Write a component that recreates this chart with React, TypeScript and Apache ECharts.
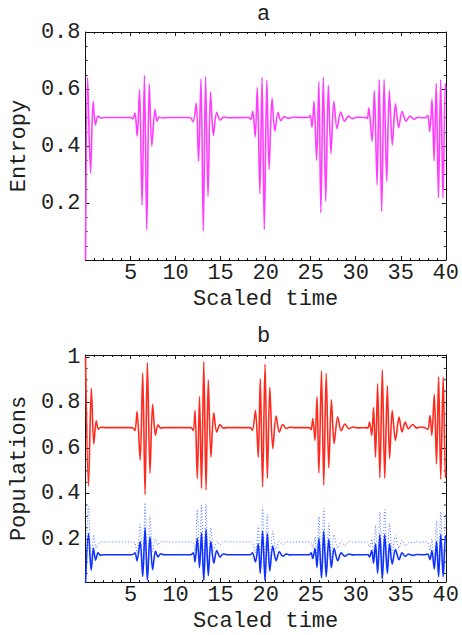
import React, { useEffect, useRef } from "react";
import * as echarts from "echarts";

// ---------- texts ----------
const PANEL_TITLES = ["a", "b"];
const X_NAME = "Scaled time";
const Y_NAMES = ["Entropy", "Populations"];

// ---------- axes ----------
const X_MIN = 0;
const X_MAX = 40;
const X_STEP = 5;
const ENTROPY_MIN = 0;
const ENTROPY_MAX = 0.8;
const ENTROPY_STEP = 0.2;
const POP_MIN = 0.012;
const POP_MAX = 1.009;
const POP_LABELS = [0.2, 0.4, 0.6, 0.8, 1];
const POP_MINOR = [0.05, 0.1, 0.15, 0.25, 0.3, 0.35, 0.45, 0.5, 0.55, 0.65, 0.7, 0.75, 0.85, 0.9, 0.95];

// ---------- data: [scaled time, value] ----------
const entropy: number[][] = [
  [0, 0.0], [0.23, 0.641], [0.56, 0.304], [0.85, 0.557], [1.1, 0.475], [1.39, 0.505], [1.7, 0.498], [2.2, 0.5],
  [5.05, 0.5], [5.25, 0.495], [5.49, 0.516], [5.74, 0.434], [6.0, 0.598], [6.28, 0.192], [6.54, 0.648], [6.8, 0.106],
  [7.08, 0.618], [7.36, 0.4], [7.72, 0.528], [7.94, 0.487], [8.16, 0.502], [8.5, 0.498], [9.0, 0.5],
  [11.6, 0.5], [11.95, 0.485], [12.3, 0.55], [12.55, 0.346], [12.82, 0.635], [13.08, 0.102], [13.33, 0.644],
  [13.6, 0.223], [13.88, 0.59], [14.2, 0.437], [14.56, 0.518], [14.95, 0.491], [15.35, 0.502], [15.8, 0.499],
  [18.1, 0.5], [18.35, 0.493], [18.57, 0.522], [18.84, 0.432], [19.07, 0.605], [19.36, 0.233], [19.6, 0.641],
  [19.85, 0.107], [20.13, 0.631], [20.38, 0.317], [20.71, 0.568], [21.02, 0.452], [21.37, 0.518], [21.7, 0.489],
  [22.05, 0.503], [22.5, 0.497], [23.0, 0.501],
  [24.75, 0.5], [24.94, 0.508], [25.15, 0.466], [25.37, 0.557], [25.66, 0.349], [25.91, 0.625], [26.13, 0.166],
  [26.4, 0.641], [26.67, 0.207], [26.96, 0.613], [27.25, 0.373], [27.57, 0.557], [27.93, 0.461], [28.33, 0.519],
  [28.76, 0.487], [29.2, 0.505], [29.63, 0.496], [30.1, 0.501],
  [31.15, 0.5], [31.3, 0.497], [31.45, 0.533], [31.82, 0.416], [32.07, 0.595], [32.37, 0.264], [32.61, 0.633],
  [32.88, 0.17], [33.15, 0.633], [33.44, 0.276], [33.73, 0.595], [34.06, 0.403], [34.41, 0.548], [34.77, 0.464],
  [35.14, 0.522], [35.57, 0.487], [36.03, 0.505], [36.47, 0.494], [36.93, 0.501], [37.4, 0.499],
  [37.8, 0.5], [38.01, 0.508], [38.22, 0.451], [38.47, 0.565], [38.7, 0.347], [38.94, 0.619], [39.18, 0.217],
  [39.43, 0.633], [39.69, 0.217], [39.94, 0.619], [40, 0.6],
];

const popRed: number[][] = [
  [0, 1.0], [0.33, 0.432], [0.65, 0.863], [0.92, 0.618], [1.19, 0.72], [1.42, 0.683], [1.7, 0.692], [2.2, 0.69],
  [5.2, 0.69], [5.49, 0.677], [5.72, 0.761], [6.07, 0.547], [6.35, 0.93], [6.61, 0.396], [6.87, 0.975],
  [7.16, 0.49], [7.45, 0.792], [7.77, 0.657], [8.05, 0.702], [8.35, 0.688], [8.7, 0.69],
  [11.7, 0.69], [11.97, 0.678], [12.16, 0.765], [12.41, 0.467], [12.66, 0.827], [12.88, 0.423], [13.13, 0.979],
  [13.38, 0.416], [13.63, 0.899], [13.92, 0.561], [14.24, 0.755], [14.57, 0.67], [14.93, 0.703], [15.3, 0.688],
  [15.7, 0.69],
  [18.3, 0.69], [18.53, 0.678], [18.87, 0.765], [19.18, 0.56], [19.4, 0.905], [19.66, 0.43], [19.93, 0.968],
  [20.19, 0.467], [20.46, 0.867], [20.79, 0.598], [21.16, 0.741], [21.52, 0.67], [21.9, 0.704], [22.3, 0.686],
  [22.7, 0.692], [23.2, 0.69],
  [24.85, 0.69], [25.05, 0.681], [25.23, 0.729], [25.48, 0.634], [25.7, 0.826], [25.91, 0.491], [26.2, 0.94],
  [26.45, 0.438], [26.72, 0.928], [27.01, 0.514], [27.3, 0.812], [27.6, 0.62], [28.0, 0.738], [28.38, 0.676],
  [28.8, 0.706], [29.25, 0.685], [29.7, 0.693], [30.2, 0.689],
  [31.2, 0.69], [31.35, 0.688], [31.53, 0.714], [31.78, 0.656], [31.98, 0.778], [32.2, 0.56], [32.43, 0.883],
  [32.68, 0.47], [32.95, 0.943], [33.22, 0.467], [33.51, 0.874], [33.76, 0.554], [34.05, 0.765], [34.41, 0.634],
  [34.81, 0.736], [35.14, 0.671], [35.5, 0.714], [35.85, 0.685], [36.33, 0.704], [36.77, 0.688], [37.2, 0.693],
  [37.7, 0.69], [38.0, 0.682], [38.25, 0.743], [38.45, 0.656], [38.72, 0.836], [38.97, 0.53], [39.2, 0.913],
  [39.44, 0.463], [39.71, 0.912], [39.96, 0.47], [40, 0.5],
];

const popBlue: number[][] = [
  [0, 0.0], [0.33, 0.225], [0.63, 0.064], [0.88, 0.16], [1.12, 0.108], [1.39, 0.14], [1.65, 0.13], [2.0, 0.132],
  [5.2, 0.132], [5.49, 0.14], [5.72, 0.105], [6.07, 0.19], [6.35, 0.036], [6.61, 0.25], [6.87, 0.022],
  [7.16, 0.21], [7.45, 0.066], [7.77, 0.148], [8.05, 0.122], [8.35, 0.136], [8.7, 0.132],
  [11.7, 0.132], [11.97, 0.14], [12.16, 0.1], [12.41, 0.205], [12.66, 0.075], [12.88, 0.227], [13.13, 0.02],
  [13.38, 0.244], [13.63, 0.04], [13.92, 0.19], [14.24, 0.095], [14.57, 0.15], [14.93, 0.122], [15.3, 0.135],
  [15.7, 0.132],
  [18.3, 0.132], [18.53, 0.14], [18.87, 0.1], [19.18, 0.18], [19.4, 0.05], [19.66, 0.235], [19.93, 0.02],
  [20.19, 0.225], [20.46, 0.06], [20.79, 0.17], [21.16, 0.105], [21.52, 0.145], [21.9, 0.125], [22.3, 0.135],
  [22.7, 0.131], [23.2, 0.132],
  [24.85, 0.132], [25.05, 0.14], [25.23, 0.115], [25.48, 0.16], [25.7, 0.075], [25.91, 0.205], [26.2, 0.03],
  [26.45, 0.235], [26.72, 0.035], [27.01, 0.2], [27.3, 0.075], [27.6, 0.16], [28.0, 0.105], [28.38, 0.14],
  [28.8, 0.125], [29.25, 0.135], [29.7, 0.131], [30.2, 0.132],
  [31.2, 0.132], [31.35, 0.133], [31.53, 0.122], [31.78, 0.15], [31.98, 0.095], [32.2, 0.18], [32.43, 0.05],
  [32.68, 0.22], [32.95, 0.025], [33.22, 0.22], [33.51, 0.05], [33.76, 0.18], [34.05, 0.09], [34.41, 0.155],
  [34.81, 0.11], [35.14, 0.14], [35.5, 0.124], [35.85, 0.135], [36.33, 0.129], [36.77, 0.133], [37.2, 0.132],
  [37.7, 0.132], [38.0, 0.135], [38.25, 0.11], [38.45, 0.15], [38.72, 0.07], [38.97, 0.19], [39.2, 0.035],
  [39.44, 0.22], [39.71, 0.035], [39.96, 0.215], [40, 0.2],
];

const popDotted: number[][] = [
  [0, 0.0], [0.33, 0.345], [0.65, 0.075], [0.92, 0.22], [1.19, 0.16], [1.42, 0.18], [1.7, 0.186], [2.2, 0.188],
  [5.2, 0.188], [5.49, 0.185], [5.72, 0.135], [6.07, 0.265], [6.35, 0.04], [6.61, 0.36], [6.87, 0.01],
  [7.16, 0.3], [7.45, 0.145], [7.77, 0.2], [8.05, 0.175], [8.35, 0.19], [8.7, 0.188],
  [11.7, 0.188], [11.97, 0.185], [12.16, 0.14], [12.41, 0.33], [12.66, 0.1], [12.88, 0.35], [13.13, 0.01],
  [13.38, 0.355], [13.63, 0.065], [13.92, 0.25], [14.24, 0.15], [14.57, 0.19], [14.93, 0.175], [15.3, 0.19],
  [15.7, 0.188],
  [18.3, 0.188], [18.53, 0.186], [18.87, 0.14], [19.18, 0.26], [19.4, 0.05], [19.66, 0.34], [19.93, 0.015],
  [20.19, 0.31], [20.46, 0.075], [20.79, 0.235], [21.16, 0.155], [21.52, 0.19], [21.9, 0.175], [22.3, 0.19],
  [22.7, 0.186], [23.2, 0.188],
  [24.85, 0.188], [25.05, 0.185], [25.23, 0.16], [25.48, 0.21], [25.7, 0.1], [25.91, 0.3], [26.2, 0.03],
  [26.45, 0.335], [26.72, 0.04], [27.01, 0.27], [27.3, 0.11], [27.6, 0.22], [28.0, 0.16], [28.38, 0.19],
  [28.8, 0.172], [29.25, 0.19], [29.7, 0.186], [30.2, 0.188],
  [31.2, 0.188], [31.35, 0.186], [31.53, 0.165], [31.78, 0.2], [31.98, 0.13], [32.2, 0.26], [32.43, 0.07],
  [32.68, 0.32], [32.95, 0.03], [33.22, 0.33], [33.51, 0.075], [33.76, 0.27], [34.05, 0.14], [34.41, 0.215],
  [34.81, 0.16], [35.14, 0.195], [35.5, 0.17], [35.85, 0.185], [36.33, 0.184], [36.77, 0.19], [37.2, 0.187],
  [37.7, 0.188], [38.0, 0.185], [38.25, 0.15], [38.45, 0.2], [38.72, 0.095], [38.97, 0.28], [39.2, 0.05],
  [39.44, 0.32], [39.71, 0.05], [39.96, 0.31], [40, 0.3],
];

// ---------- styles ----------
const FONT = "Liberation Mono";
const FONT_SIZE = 22;
const TEXT_COLOR = "#1e1e1e";
const FRAME_COLOR = "#111";
const MAGENTA = "#ff3cff";
const RED = "#ff2a1e";
const BLUE = "#0f32ff";
const LIGHT_BLUE = "#5a78ff";

const GRIDS = [
  { left: 78, top: 32, width: 371, height: 228 },
  { left: 78, top: 355, width: 371, height: 227 },
];

function fmt(v: number): string {
  if (v === 0) return "";
  if (v === 1) return "1";
  return Number.isInteger(v) ? String(v) : v.toFixed(1);
}

function frameX(gridIndex: number, position: "bottom" | "top", withLabels: boolean): any {
  return {
    type: "value",
    gridIndex,
    position,
    min: X_MIN,
    max: X_MAX,
    interval: X_STEP,
    axisLine: { show: true, onZero: false, lineStyle: { color: FRAME_COLOR, width: 1 } },
    axisTick: { show: true, inside: true, length: 4, lineStyle: { color: FRAME_COLOR, width: 1 } },
    minorTick: { show: true, splitNumber: 5, length: 2, lineStyle: { color: FRAME_COLOR, width: 1 } },
    splitLine: { show: false },
    minorSplitLine: { show: false },
    axisLabel: {
      show: withLabels,
      formatter: fmt,
      margin: 2,
      fontFamily: FONT,
      fontSize: FONT_SIZE,
      color: TEXT_COLOR,
    },
    name: withLabels ? X_NAME : "",
    nameLocation: "middle",
    nameGap: 28,
    nameTextStyle: { fontFamily: FONT, fontSize: FONT_SIZE, color: TEXT_COLOR },
  };
}

function entropyY(position: "left" | "right", withLabels: boolean): any {
  return {
    type: "value",
    gridIndex: 0,
    position,
    min: ENTROPY_MIN,
    max: ENTROPY_MAX,
    interval: ENTROPY_STEP,
    axisLine: { show: true, onZero: false, lineStyle: { color: FRAME_COLOR, width: 1 } },
    axisTick: { show: true, inside: true, length: 4, lineStyle: { color: FRAME_COLOR, width: 1 } },
    minorTick: { show: true, splitNumber: 4, length: 2, lineStyle: { color: FRAME_COLOR, width: 1 } },
    splitLine: { show: false },
    minorSplitLine: { show: false },
    axisLabel: {
      show: withLabels,
      formatter: fmt,
      margin: 5,
      fontFamily: FONT,
      fontSize: FONT_SIZE,
      color: TEXT_COLOR,
    },
    name: withLabels ? Y_NAMES[0] : "",
    nameLocation: "middle",
    nameGap: 50,
    nameRotate: 90,
    nameTextStyle: { fontFamily: FONT, fontSize: FONT_SIZE, color: TEXT_COLOR },
  };
}

function popY(position: "left" | "right", withLabels: boolean): any {
  return {
    type: "value",
    gridIndex: 1,
    position,
    min: POP_MIN,
    max: POP_MAX,
    axisLine: { show: true, onZero: false, lineStyle: { color: FRAME_COLOR, width: 1 } },
    axisTick: {
      show: true,
      inside: true,
      length: 4,
      customValues: POP_LABELS,
      lineStyle: { color: FRAME_COLOR, width: 1 },
    },
    splitLine: { show: false },
    axisLabel: {
      show: withLabels,
      customValues: POP_LABELS,
      formatter: fmt,
      margin: 5,
      fontFamily: FONT,
      fontSize: FONT_SIZE,
      color: TEXT_COLOR,
    },
    name: withLabels ? Y_NAMES[1] : "",
    nameLocation: "middle",
    nameGap: 50,
    nameRotate: 90,
    nameTextStyle: { fontFamily: FONT, fontSize: FONT_SIZE, color: TEXT_COLOR },
  };
}

export default function App() {
  const ref = useRef<HTMLDivElement>(null);

  useEffect(() => {
    if (!ref.current) return;
    const chart = echarts.init(ref.current, undefined, { renderer: "svg" });

    const lineBase = {
      type: "line",
      showSymbol: false,
      symbol: "none",
      smooth: 0.3,
      clip: true,
      silent: true,
    };

    chart.setOption({
      animation: false,
      backgroundColor: "#ffffff",
      grid: GRIDS,
      xAxis: [
        frameX(0, "bottom", true),
        frameX(0, "top", false),
        frameX(1, "bottom", true),
        frameX(1, "top", false),
      ],
      yAxis: [entropyY("left", true), entropyY("right", false), popY("left", true), popY("right", false)],
      graphic: [
        {
          type: "text",
          x: GRIDS[0].left + GRIDS[0].width / 2,
          y: 14,
          style: {
            text: PANEL_TITLES[0],
            align: "center",
            verticalAlign: "middle",
            fontFamily: FONT,
            fontSize: FONT_SIZE,
            fill: TEXT_COLOR,
          },
        },
        {
          type: "text",
          x: GRIDS[1].left + GRIDS[1].width / 2,
          y: 336,
          style: {
            text: PANEL_TITLES[1],
            align: "center",
            verticalAlign: "middle",
            fontFamily: FONT,
            fontSize: FONT_SIZE,
            fill: TEXT_COLOR,
          },
        },
      ],
      series: [
        {
          ...lineBase,
          name: "Entropy",
          xAxisIndex: 0,
          yAxisIndex: 0,
          data: entropy,
          lineStyle: { color: MAGENTA, width: 1.6 },
        },
        {
          ...lineBase,
          name: "level 3",
          xAxisIndex: 2,
          yAxisIndex: 2,
          data: popDotted,
          lineStyle: { color: LIGHT_BLUE, width: 1, type: [1, 2] },
        },
        {
          ...lineBase,
          name: "level 2",
          xAxisIndex: 2,
          yAxisIndex: 2,
          data: popBlue,
          lineStyle: { color: BLUE, width: 1.6 },
        },
        {
          ...lineBase,
          name: "level 1",
          xAxisIndex: 2,
          yAxisIndex: 2,
          data: popRed,
          lineStyle: { color: RED, width: 1.6 },
        },
        {
          type: "custom",
          xAxisIndex: 2,
          yAxisIndex: 2,
          silent: true,
          clip: false,
          data: POP_MINOR.map((v) => [X_MIN, v]),
          renderItem: (params: any, api: any) => {
            const p = api.coord([X_MIN, api.value(1)]);
            const cs = params.coordSys;
            return {
              type: "group",
              children: [
                {
                  type: "line",
                  shape: { x1: cs.x, y1: p[1], x2: cs.x + 2, y2: p[1] },
                  style: { stroke: FRAME_COLOR, lineWidth: 1 },
                },
                {
                  type: "line",
                  shape: { x1: cs.x + cs.width - 2, y1: p[1], x2: cs.x + cs.width, y2: p[1] },
                  style: { stroke: FRAME_COLOR, lineWidth: 1 },
                },
              ],
            };
          },
        },
      ],
    });

    return () => chart.dispose();
  }, []);

  return (
    <div
      ref={ref}
      style={{ position: "fixed", left: 0, top: 0, width: 462, height: 635, background: "#fff" }}
    />
  );
}
